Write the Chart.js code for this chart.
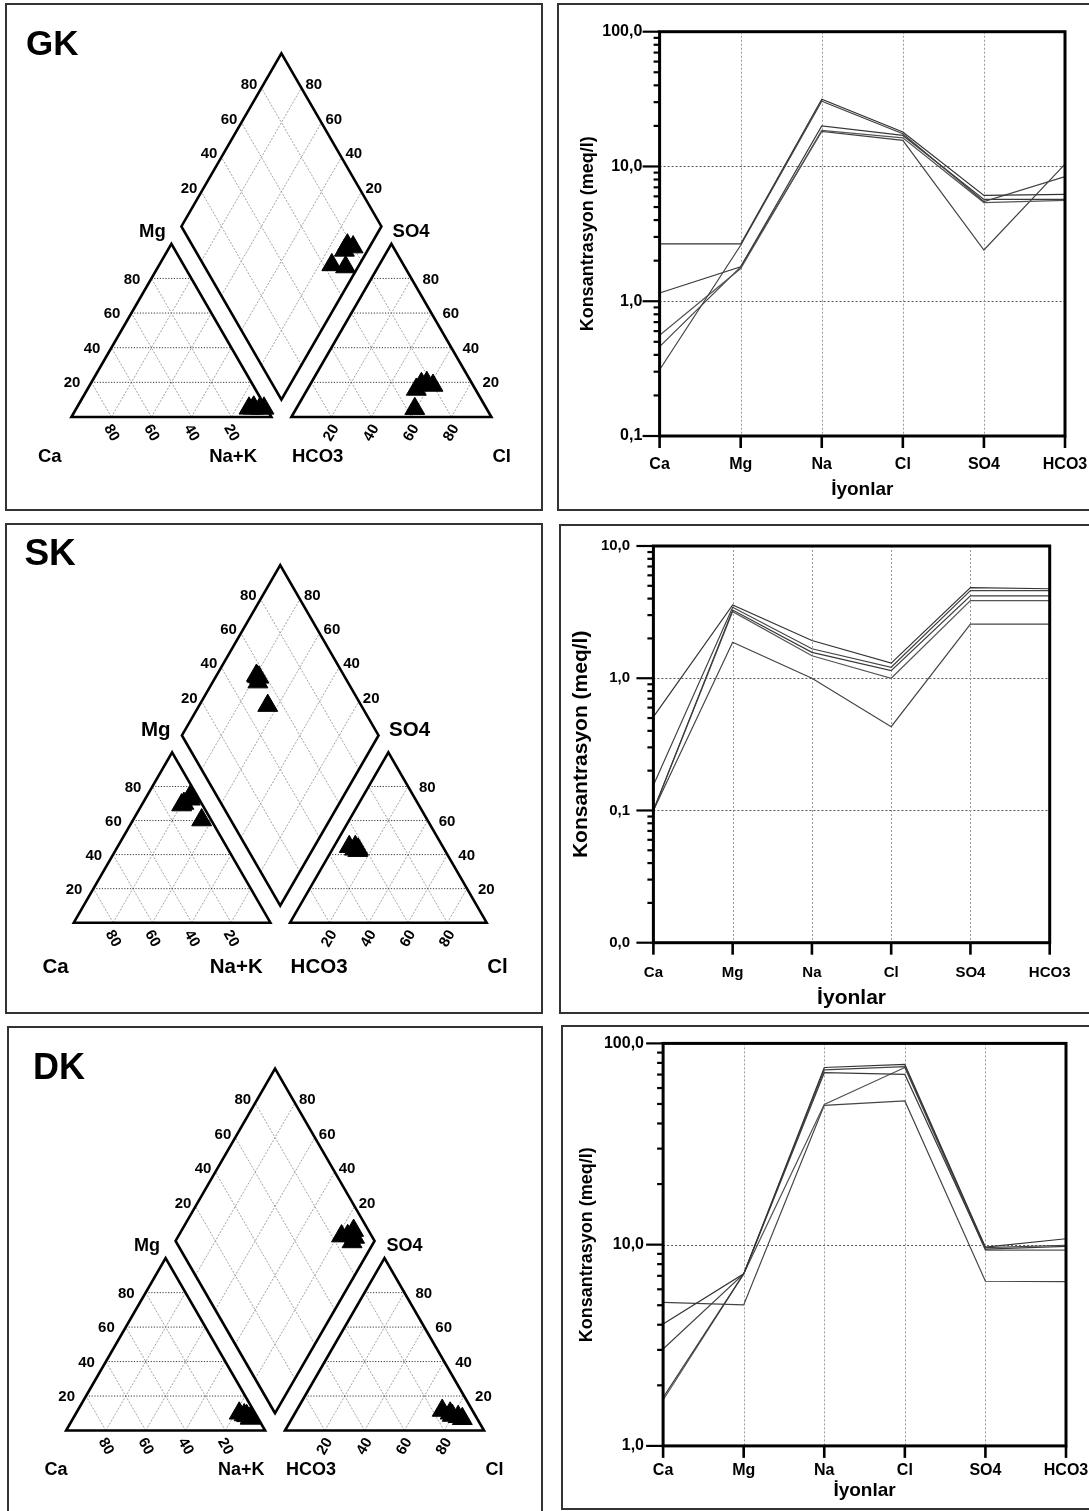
<!DOCTYPE html>
<html><head><meta charset="utf-8">
<script src="https://cdn.jsdelivr.net/npm/chart.js@4.4.1/dist/chart.umd.min.js"></script>
<style>
html,body{margin:0;padding:0;background:#fff;}
body{width:1089px;height:1511px;overflow:hidden;position:relative;font-family:"Liberation Sans",Arial,sans-serif;}
.panel{position:absolute;border:2px solid #333;box-sizing:border-box;}
canvas{position:absolute;}
</style></head><body>
<div class="panel" style="left:5px;top:3px;width:538px;height:508px"></div>
<div class="panel" style="left:557px;top:3px;width:545px;height:508px"></div>
<div class="panel" style="left:5px;top:523px;width:538px;height:491px"></div>
<div class="panel" style="left:559px;top:524px;width:545px;height:490px"></div>
<div class="panel" style="left:7px;top:1026px;width:536px;height:500px"></div>
<div class="panel" style="left:561px;top:1025px;width:545px;height:485px"></div>
<canvas id="pGK"></canvas><canvas id="sGK"></canvas>
<canvas id="pSK"></canvas><canvas id="sSK"></canvas>
<canvas id="pDK"></canvas><canvas id="sDK"></canvas>
<script>
// ---------- DATA ----------
const ions = ['Ca', 'Mg', 'Na', 'Cl', 'SO4', 'HCO3'];
const pipTicks = [20, 40, 60, 80];

// Piper percentages (meq %) – GK
const gkCa   = [6.6, 3.2, 1.2, 8.7, 6.0];
const gkMg   = [5.0, 5.0, 5.0, 5.0, 5.6];
const gkNa   = [88.4, 91.8, 93.8, 86.3, 88.4];
const gkHCO3 = [25.4, 20.1, 29.6, 35.9, 22.4];
const gkSO4  = [19.2, 18.2, 15.9, 4.8, 19.8];
const gkCl   = [55.4, 61.7, 54.5, 59.3, 57.8];
// SK
const skCa   = [3.9, 10.6, 4.8, 4.5, 9.0];
const skMg   = [74.0, 69.1, 60.3, 72.5, 70.0];
const skNa   = [22.1, 20.3, 34.9, 23.0, 21.0];
const skHCO3 = [43.8, 44.5, 47.6, 45.7, 44.4];
const skSO4  = [43.1, 44.6, 44.6, 43.1, 42.3];
const skCl   = [13.1, 10.9, 7.8, 11.2, 13.3];
// DK
const dkCa   = [8.0, 3.5, 5.0, 6.0, 4.0];
const dkMg   = [10.0, 7.5, 8.5, 9.0, 7.0];
const dkNa   = [82.0, 89.0, 86.5, 85.0, 89.0];
const dkHCO3 = [15.2, 11.6, 7.5, 12.0, 9.0];
const dkSO4  = [11.6, 8.7, 6.8, 10.0, 8.0];
const dkCl   = [73.2, 79.7, 85.7, 78.0, 83.0];

// Schoeller concentrations (meq/l), order = ions
const gkLine1 = [2.66, 2.66, 31.5, 18.0, 6.1, 6.2];
const gkLine2 = [0.31, 2.6, 30.5, 17.5, 5.5, 8.4];
const gkLine3 = [1.15, 1.8, 20.0, 17.0, 5.7, 5.7];
const gkLine4 = [0.56, 1.75, 18.5, 16.3, 5.4, 5.6];
const gkLine5 = [0.46, 1.8, 18.2, 15.6, 2.4, 10.4];

const skLine1 = [0.51, 3.58, 1.93, 1.30, 4.85, 4.75];
const skLine2 = [0.155, 3.44, 1.67, 1.21, 4.6, 4.6];
const skLine3 = [0.1, 3.28, 1.57, 1.14, 4.2, 4.2];
const skLine4 = [0.1, 3.19, 1.48, 1.0, 3.86, 3.86];
const skLine5 = [0.1, 1.87, 1.0, 0.43, 2.57, 2.57];

const dkLine1 = [4.03, 7.16, 75.9, 78.6, 9.72, 10.7];
const dkLine2 = [3.03, 7.16, 73.8, 76.6, 9.66, 9.93];
const dkLine3 = [1.74, 7.16, 71.5, 70.1, 9.5, 9.8];
const dkLine4 = [1.69, 7.16, 49.7, 75.9, 9.4, 9.4];
const dkLine5 = [5.17, 5.02, 49.2, 51.8, 6.58, 6.55];

// ---------- HELPERS ----------
const FONT = '"Liberation Sans", Arial, Helvetica, sans-serif';
const H = Math.sqrt(3) / 2;
const cat = (ca, mg, na) => ({x: na + mg / 2, y: mg * H});
const ani = (hco3, so4, cl) => ({x: 110 + cl + so4 / 2, y: so4 * H});
const dia = (u, v) => ({x: 105 + (v - u) / 2, y: 10 * H + (u + v) * H});

function seg(a, b, color, width, dash, order) {
  return {data: [a, b], showLine: true, borderColor: color, borderWidth: width, borderDash: dash,
    pointRadius: 0, pointHoverRadius: 0, fill: false, order: order, borderCapStyle: 'butt'};
}

function piperChart(id, cfg) {
  const cv = document.getElementById(id);
  const R = cfg.canvas, g = cfg.geo;
  cv.width = R.width; cv.height = R.height;
  cv.style.left = R.left + 'px'; cv.style.top = R.top + 'px';
  const ds = [];
  const s = cfg.sample;
  const mk = pts => ({data: pts, showLine: false, pointStyle: 'triangle', pointRadius: cfg.marker,
    pointHoverRadius: cfg.marker, backgroundColor: '#000', borderColor: '#000', borderWidth: 1, order: 0});
  ds.push(mk(s.Ca.map((v, i) => cat(v, s.Mg[i], s.Na[i]))));
  ds.push(mk(s.HCO3.map((v, i) => ani(v, s.SO4[i], s.Cl[i]))));
  ds.push(mk(s.Ca.map((v, i) => dia(v + s.Mg[i], s.SO4[i] + s.Cl[i]))));
  const outl = pts => ({data: pts, showLine: true, borderColor: '#000', borderWidth: 2.6, pointRadius: 0,
    fill: false, order: 1, borderJoinStyle: 'miter'});
  ds.push(outl([cat(100,0,0), cat(0,0,100), cat(0,100,0), cat(100,0,0), cat(0,0,100)]));
  ds.push(outl([ani(100,0,0), ani(0,0,100), ani(0,100,0), ani(100,0,0), ani(0,0,100)]));
  ds.push(outl([dia(0,0), dia(100,0), dia(100,100), dia(0,100), dia(0,0), dia(100,0)]));
  const HC = '#222', DC = '#8a8a8a';
  pipTicks.forEach(k => {
    ds.push(seg(cat(100-k,k,0), cat(0,k,100-k), HC, 0.9, [1.2,1.6], 2));
    ds.push(seg(ani(100-k,k,0), ani(0,k,100-k), HC, 0.9, [1.2,1.6], 2));
    ds.push(seg(cat(k,0,100-k), cat(k,100-k,0), DC, 0.8, [2,1.5], 2));
    ds.push(seg(cat(100-k,0,k), cat(0,100-k,k), DC, 0.8, [2,1.5], 2));
    ds.push(seg(ani(100-k,0,k), ani(0,100-k,k), DC, 0.8, [2,1.5], 2));
    ds.push(seg(ani(k,0,100-k), ani(k,100-k,0), DC, 0.8, [2,1.5], 2));
    ds.push(seg(dia(k,0), dia(k,100), DC, 0.8, [2,1.5], 2));
    ds.push(seg(dia(0,k), dia(100,k), DC, 0.8, [2,1.5], 2));
  });
  const textPlugin = {id: 'ptxt', afterDraw(chart) {
    const ctx = chart.ctx, xs = chart.scales.x, ys = chart.scales.y;
    const P = p => [xs.getPixelForValue(p.x), ys.getPixelForValue(p.y)];
    const ox = R.left, oy = R.top;
    ctx.save();
    ctx.fillStyle = '#000';
    ctx.textBaseline = 'alphabetic'; ctx.textAlign = 'left';
    ctx.font = 'bold ' + cfg.titleSize + 'px ' + FONT;
    ctx.fillText(cfg.name, cfg.titlePos[0] - ox, cfg.titlePos[1] - oy);
    ctx.font = 'bold ' + cfg.labelSize + 'px ' + FONT;
    cfg.labels.forEach(([t, al, x, y]) => { ctx.textAlign = al; ctx.fillText(t, x - ox, y - oy); });
    ctx.font = 'bold ' + cfg.tickSize + 'px ' + FONT;
    ctx.textBaseline = 'middle';
    pipTicks.forEach(k => {
      const t = String(k);
      let [x, y] = P(cat(100-k, k, 0)); ctx.textAlign = 'right'; ctx.fillText(t, x - 11, y + 1);
      [x, y] = P(ani(0, k, 100-k)); ctx.textAlign = 'left'; ctx.fillText(t, x + 11, y + 1);
      [x, y] = P(dia(100, k)); ctx.textAlign = 'right'; ctx.fillText(t, x - 4, y - 3);
      [x, y] = P(dia(k, 100)); ctx.textAlign = 'left'; ctx.fillText(t, x + 4, y - 3);
      ctx.textAlign = 'center';
      [x, y] = P(cat(k, 0, 100-k));
      ctx.save(); ctx.translate(x, y + 16); ctx.rotate(Math.PI / 3); ctx.fillText(t, 0, 0); ctx.restore();
      [x, y] = P(ani(100-k, 0, k));
      ctx.save(); ctx.translate(x, y + 16); ctx.rotate(-Math.PI / 3); ctx.fillText(t, 0, 0); ctx.restore();
    });
    ctx.restore();
  }};
  new Chart(cv, {type: 'scatter', data: {datasets: ds}, options: {
    responsive: false, animation: false, devicePixelRatio: 1, events: [],
    layout: {padding: 0, autoPadding: false},
    plugins: {legend: {display: false}, tooltip: {enabled: false}},
    scales: {
      x: {type: 'linear', display: false, min: (R.left - g.X0) / g.s, max: (R.left + R.width - g.X0) / g.s},
      y: {type: 'linear', display: false, min: -(R.top + R.height - g.YB) / g.s, max: (g.YB - R.top) / g.s}
    }}, plugins: [textPlugin]});
}

const isDecade = v => Math.abs(Math.log10(v) - Math.round(Math.log10(v))) < 1e-9;
const zeroPad = s => { s.paddingLeft = 0; s.paddingRight = 0; s.paddingTop = 0; s.paddingBottom = 0; };

function schoellerChart(id, c) {
  const cv = document.getElementById(id);
  const R = c.canvas;
  cv.width = R.width; cv.height = R.height;
  cv.style.left = R.left + 'px'; cv.style.top = R.top + 'px';
  const aL = c.area.left - R.left, aR = c.area.right - R.left, aT = c.area.top - R.top, aB = c.area.bottom - R.top;
  const xTickPad = (c.catY - R.top) - aB - c.catSize * 1.2 / 2;
  const xTitlePad = R.height - (c.xTitleY - R.top) - c.xTitleSize * 1.2 / 2;
  const yTickPad = aL - (c.yLabelRight - R.left);
  const yTitlePad = (c.yTitleX - R.left) - c.yTitleSize * 1.2 / 2;
  const font = sz => ({family: FONT, size: sz, weight: 'bold'});
  const frame = {id: 'sframe',
    beforeDatasetsDraw(chart) {
      const {ctx, chartArea: a, scales: {x, y}} = chart;
      ctx.save(); ctx.lineWidth = 1;
      ctx.setLineDash([2, 2]);
      ctx.strokeStyle = '#555';
      y.ticks.forEach(t => { if (!isDecade(t.value)) return; const py = Math.round(y.getPixelForValue(t.value)) + 0.5;
        ctx.beginPath(); ctx.moveTo(a.left, py); ctx.lineTo(a.right, py); ctx.stroke(); });
      ctx.strokeStyle = '#999';
      x.ticks.forEach((t, i) => { if (i === 0 || i === x.ticks.length - 1) return; const px = Math.round(x.getPixelForTick(i)) + 0.5;
        ctx.beginPath(); ctx.moveTo(px, a.top); ctx.lineTo(px, a.bottom); ctx.stroke(); });
      ctx.restore();
    },
    afterDraw(chart) {
      const {ctx, chartArea: a, scales: {x, y}} = chart;
      ctx.save(); ctx.strokeStyle = '#000'; ctx.setLineDash([]);
      ctx.lineWidth = 3;
      ctx.strokeRect(a.left, a.top, a.right - a.left, a.bottom - a.top);
      ctx.lineWidth = 2.2;
      y.ticks.forEach(t => { const py = y.getPixelForValue(t.value); const len = isDecade(t.value) ? 17 : 6;
        ctx.beginPath(); ctx.moveTo(a.left - len, py); ctx.lineTo(a.left, py); ctx.stroke(); });
      ctx.lineWidth = 2.6;
      x.ticks.forEach((t, i) => { const px = x.getPixelForTick(i);
        ctx.beginPath(); ctx.moveTo(px, a.bottom); ctx.lineTo(px, a.bottom + 12); ctx.stroke(); });
      ctx.restore();
    }};
  new Chart(cv, {type: 'line', data: {labels: ions, datasets: c.series.map((d, i) => ({
      data: d, borderColor: c.colors[i], borderWidth: 1.2, pointRadius: 0, fill: false, tension: 0}))},
    options: {responsive: false, animation: false, devicePixelRatio: 1, events: [],
      layout: {padding: {left: 0, top: aT, right: R.width - aR, bottom: 0}, autoPadding: false},
      plugins: {legend: {display: false}, tooltip: {enabled: false}},
      scales: {
        x: {type: 'category', offset: false, grid: {display: false, drawTicks: false}, border: {display: false},
          ticks: {color: '#000', font: font(c.catSize), padding: xTickPad, autoSkip: false, maxRotation: 0},
          title: {display: true, text: 'İyonlar', color: '#000', font: font(c.xTitleSize), padding: {top: 0, bottom: xTitlePad}},
          afterFit: s => { s.height = R.height - aB; zeroPad(s); }},
        y: {type: 'logarithmic', min: c.ymin, max: c.ymax, grid: {display: false, drawTicks: false}, border: {display: false},
          afterBuildTicks: s => {
            const t = [];
            const e0 = Math.round(Math.log10(c.ymin)), e1 = Math.round(Math.log10(c.ymax));
            for (let e = e0; e < e1; e++) for (let m = 1; m < 10; m++) t.push({value: m * Math.pow(10, e)});
            t.push({value: c.ymax});
            s.ticks = t;
          },
          ticks: {color: '#000', font: font(c.tickSize), padding: yTickPad, autoSkip: false,
            callback: v => isDecade(v) ? v.toFixed(1).replace('.', ',') : ''},
          title: {display: true, text: 'Konsantrasyon (meq/l)', color: '#000', font: font(c.yTitleSize), padding: {top: yTitlePad, bottom: 0}},
          afterFit: s => { s.width = aL; zeroPad(s); }}
      }}, plugins: [frame]});
}

// ---------- BUILD ----------
piperChart('pGK', {name: 'GK', canvas: {left: 7, top: 5, width: 534, height: 504},
  geo: {X0: 71.4, YB: 417, s: 2.0}, marker: 11.5,
  sample: {Ca: gkCa, Mg: gkMg, Na: gkNa, HCO3: gkHCO3, SO4: gkSO4, Cl: gkCl},
  titlePos: [26, 55], titleSize: 35, labelSize: 18.5, tickSize: 15,
  labels: [['Ca','left',38,462], ['Na+K','right',257,462], ['HCO3','left',292,462], ['Cl','left',492.5,462], ['Mg','left',139,237.3], ['SO4','left',392.6,237.3]]});
piperChart('pSK', {name: 'SK', canvas: {left: 7, top: 525, width: 534, height: 487},
  geo: {X0: 73.8, YB: 922.7, s: 1.966}, marker: 11.5,
  sample: {Ca: skCa, Mg: skMg, Na: skNa, HCO3: skHCO3, SO4: skSO4, Cl: skCl},
  titlePos: [24.4, 565], titleSize: 37, labelSize: 20.5, tickSize: 15,
  labels: [['Ca','left',42.5,972.7], ['Na+K','right',262.8,972.7], ['HCO3','left',290.6,972.7], ['Cl','left',487.3,972.7], ['Mg','left',141,736], ['SO4','left',389.1,736]]});
piperChart('pDK', {name: 'DK', canvas: {left: 9, top: 1028, width: 532, height: 483},
  geo: {X0: 66.1, YB: 1430.5, s: 1.99}, marker: 11.5,
  sample: {Ca: dkCa, Mg: dkMg, Na: dkNa, HCO3: dkHCO3, SO4: dkSO4, Cl: dkCl},
  titlePos: [33, 1078.5], titleSize: 36, labelSize: 18, tickSize: 15,
  labels: [['Ca','left',44.6,1475], ['Na+K','right',264.5,1475], ['HCO3','left',286.1,1475], ['Cl','left',485.5,1475], ['Mg','left',134,1250.5], ['SO4','left',386.4,1251]]});

const lineCols = ['#333', '#444', '#3a3a3a', '#555', '#444'];
schoellerChart('sGK', {canvas: {left: 559, top: 5, width: 530, height: 503},
  area: {left: 659.6, right: 1065, top: 31.7, bottom: 436}, ymin: 0.1, ymax: 100,
  series: [gkLine1, gkLine2, gkLine3, gkLine4, gkLine5], colors: lineCols,
  tickSize: 16, catSize: 16, xTitleSize: 19, yTitleSize: 18,
  yLabelRight: 642.3, catY: 465, xTitleY: 490, yTitleX: 588});
schoellerChart('sSK', {canvas: {left: 561, top: 526, width: 528, height: 485},
  area: {left: 653.4, right: 1049.7, top: 546, bottom: 942.7}, ymin: 0.01, ymax: 10,
  series: [skLine1, skLine2, skLine3, skLine4, skLine5], colors: lineCols,
  tickSize: 15, catSize: 15, xTitleSize: 21, yTitleSize: 21,
  yLabelRight: 630.1, catY: 972.7, xTitleY: 998, yTitleX: 581.5});
schoellerChart('sDK', {canvas: {left: 563, top: 1027, width: 526, height: 480},
  area: {left: 663.1, right: 1066, top: 1043.4, bottom: 1445.9}, ymin: 1, ymax: 100,
  series: [dkLine1, dkLine2, dkLine3, dkLine4, dkLine5], colors: lineCols,
  tickSize: 16, catSize: 16, xTitleSize: 19, yTitleSize: 18,
  yLabelRight: 644, catY: 1471, xTitleY: 1491, yTitleX: 587.4});
</script>
</body></html>
